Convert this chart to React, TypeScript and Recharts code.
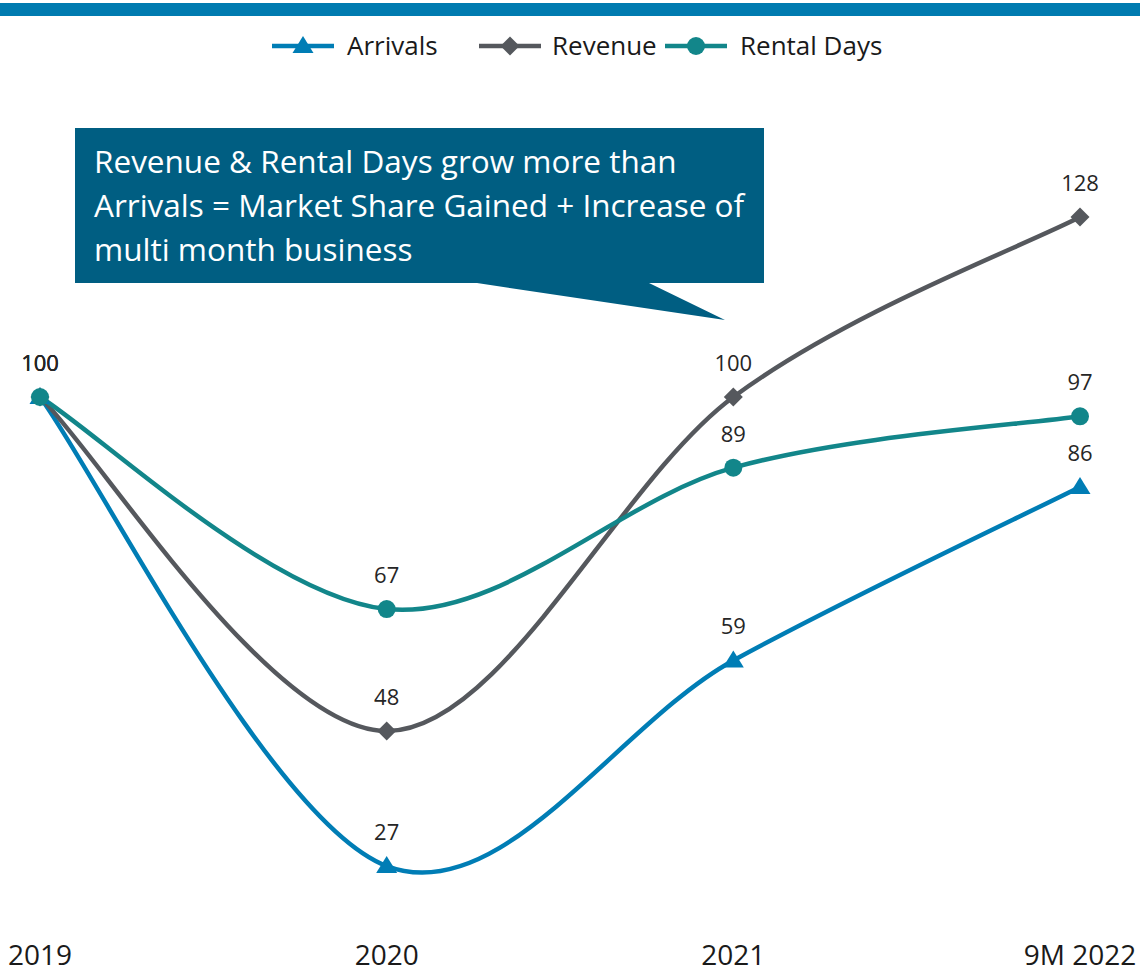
import React from 'react';
import { LineChart, Line, XAxis, YAxis, LabelList } from 'recharts';

const years = ['2019', '2020', '2021', '9M 2022'];
const arrivals = [100, 27, 59, 86];
const revenue = [100, 48, 100, 128];
const rentalDays = [100, 67, 89, 97];

const data = years.map((year, i) => ({
  year,
  arrivals: arrivals[i],
  revenue: revenue[i],
  rentalDays: rentalDays[i],
}));

const COLORS = {
  arrivals: '#007DB5',
  revenue: '#55585D',
  rentalDays: '#12868A',
  callout: '#005E82',
  bar: '#007BB0',
};
const FONT = '"Open Sans", sans-serif';

// excel-like smoothing: bezier segments with 1/6 tangents
const smoothCurve = (context: any) => {
  let pts: number[][] = [];
  return {
    areaStart() {},
    areaEnd() {},
    lineStart() {
      pts = [];
    },
    point(x: number, y: number) {
      pts.push([+x, +y]);
    },
    lineEnd() {
      if (!pts.length) return;
      context.moveTo(pts[0][0], pts[0][1]);
      for (let i = 0; i < pts.length - 1; i++) {
        const p0 = pts[Math.max(i - 1, 0)];
        const p1 = pts[i];
        const p2 = pts[i + 1];
        const p3 = pts[Math.min(i + 2, pts.length - 1)];
        context.bezierCurveTo(
          p1[0] + (p2[0] - p0[0]) / 6,
          p1[1] + (p2[1] - p0[1]) / 6,
          p2[0] - (p3[0] - p1[0]) / 6,
          p2[1] - (p3[1] - p1[1]) / 6,
          p2[0],
          p2[1]
        );
      }
    },
  };
};

const triangle = (cx: number, cy: number, fill: string, key?: any) => (
  <path key={key} d={`M${cx},${cy - 10} L${cx + 10.5},${cy + 7} L${cx - 10.5},${cy + 7} Z`} fill={fill} />
);
const diamond = (cx: number, cy: number, fill: string, key?: any) => (
  <path key={key} d={`M${cx},${cy - 9.5} L${cx + 9.5},${cy} L${cx},${cy + 9.5} L${cx - 9.5},${cy} Z`} fill={fill} />
);
const circle = (cx: number, cy: number, fill: string, key?: any) => (
  <circle key={key} cx={cx} cy={cy} r={9} fill={fill} />
);

const renderLabel = (props: any) => (
  <text
    x={props.x}
    y={props.y - 26}
    textAnchor="middle"
    fontFamily={FONT}
    fontSize={22}
    fill="#262626"
  >
    {props.value}
  </text>
);

const renderTick = (props: any) => (
  <text
    x={props.x}
    y={props.y}
    dy={46}
    textAnchor="middle"
    fontFamily={FONT}
    fontSize={28}
    fill="#1a1a1a"
  >
    {props.payload.value}
  </text>
);

const legendItems = [
  { name: 'Arrivals', color: COLORS.arrivals, marker: triangle, x: 272, textX: 347 },
  { name: 'Revenue', color: COLORS.revenue, marker: diamond, x: 479, textX: 552 },
  { name: 'Rental Days', color: COLORS.rentalDays, marker: circle, x: 665, textX: 740 },
];

const calloutLines = [
  'Revenue & Rental Days grow more than',
  'Arrivals = Market Share Gained + Increase of',
  'multi month business',
];

export default function App() {
  return (
    <div style={{ position: 'absolute', left: 0, top: 0, width: 1140, height: 973, background: '#fff' }}>
      <div style={{ position: 'absolute', left: 0, top: 3, width: 1140, height: 13, background: COLORS.bar }} />

      <LineChart
        width={1140}
        height={973}
        data={data}
        margin={{ top: 140, right: 60, bottom: 22, left: 40 }}
      >
        <XAxis
          dataKey="year"
          axisLine={false}
          tickLine={false}
          height={40}
          tick={renderTick}
          interval={0}
        />
        <YAxis hide domain={[20, 140]} />
        <Line
          dataKey="arrivals"
          type={smoothCurve as any}
          stroke={COLORS.arrivals}
          strokeWidth={4.5}
          dot={(p: any) => triangle(p.cx, p.cy, COLORS.arrivals, p.index)}
          activeDot={false}
          isAnimationActive={false}
        >
          <LabelList dataKey="arrivals" content={renderLabel} />
        </Line>
        <Line
          dataKey="revenue"
          type={smoothCurve as any}
          stroke={COLORS.revenue}
          strokeWidth={4.5}
          dot={(p: any) => diamond(p.cx, p.cy, COLORS.revenue, p.index)}
          activeDot={false}
          isAnimationActive={false}
        >
          <LabelList dataKey="revenue" content={renderLabel} />
        </Line>
        <Line
          dataKey="rentalDays"
          type={smoothCurve as any}
          stroke={COLORS.rentalDays}
          strokeWidth={4.5}
          dot={(p: any) => circle(p.cx, p.cy, COLORS.rentalDays, p.index)}
          activeDot={false}
          isAnimationActive={false}
        >
          <LabelList dataKey="rentalDays" content={renderLabel} />
        </Line>
      </LineChart>

      <svg
        width={1140}
        height={340}
        style={{ position: 'absolute', left: 0, top: 0, pointerEvents: 'none' }}
      >
        {legendItems.map((item) => (
          <g key={item.name}>
            <line x1={item.x} x2={item.x + 62} y1={46} y2={46} stroke={item.color} strokeWidth={4.5} />
            {item.marker(item.x + 31, 46, item.color)}
            <text x={item.textX} y={55} fontFamily={FONT} fontSize={26} fill="#1a1a1a">
              {item.name}
            </text>
          </g>
        ))}
        <path
          d="M75,128 H764 V283 H649 L725,320 L477,283 H75 Z"
          fill={COLORS.callout}
        />
        {calloutLines.map((line, i) => (
          <text key={i} x={94} y={173 + i * 44} fontFamily={FONT} fontSize={31.5} fill="#fff">
            {line}
          </text>
        ))}
      </svg>
    </div>
  );
}
